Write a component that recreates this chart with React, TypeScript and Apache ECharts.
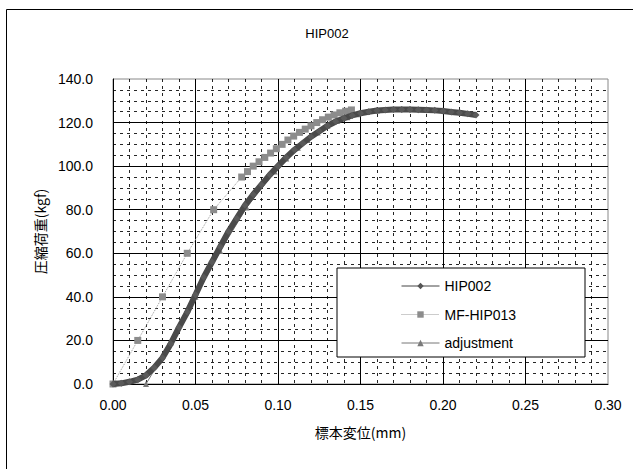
import React, { useEffect, useRef } from "react";
import * as echarts from "echarts";

const chartTitle = "HIP002";
const xAxisName = "標本変位(mm)";
const yAxisName = "圧縮荷重(kgf)";
const seriesNames = ["HIP002", "MF-HIP013", "adjustment"];

const hip002: [number, number][] = [
  [0.0, 0], [0.005, 0.3], [0.01, 1], [0.015, 2], [0.02, 4], [0.025, 7.5],
  [0.03, 12], [0.035, 18.5], [0.04, 26], [0.045, 33], [0.05, 41], [0.055, 49],
  [0.06, 56], [0.065, 63], [0.07, 70], [0.075, 76], [0.08, 82], [0.085, 87],
  [0.09, 91.5], [0.095, 96], [0.1, 100], [0.105, 104], [0.11, 107.5],
  [0.115, 110.5], [0.12, 113.5], [0.125, 116], [0.13, 118.5], [0.135, 120.5],
  [0.14, 122], [0.145, 123.3], [0.15, 124.3], [0.155, 125], [0.16, 125.5],
  [0.165, 125.8], [0.17, 126], [0.175, 126], [0.18, 126], [0.185, 125.9],
  [0.19, 125.8], [0.195, 125.6], [0.2, 125.3], [0.205, 124.9], [0.21, 124.5],
  [0.215, 124], [0.22, 123.5],
];

const mfHip013: [number, number][] = [
  [0.0, 0], [0.015, 20], [0.03, 40], [0.045, 60], [0.061, 80], [0.078, 95],
  [0.0815, 97.5], [0.085, 100], [0.0885, 102], [0.092, 104], [0.0955, 106],
  [0.099, 108], [0.1025, 110], [0.106, 112], [0.1095, 113.8], [0.113, 115.5],
  [0.1165, 117], [0.12, 118.5], [0.1235, 120], [0.127, 121.3], [0.1305, 122.5],
  [0.134, 123.5], [0.1375, 124.5], [0.141, 125.2], [0.1445, 125.8],
];

const adjustment: [number, number][] = [
  [0.02, 0], [0.035, 19], [0.05, 40], [0.065, 61], [0.081, 81], [0.098, 97.5],
  [0.105, 103.5], [0.112, 108.5], [0.118, 112], [0.124, 115.5], [0.13, 118.5],
  [0.136, 120.8], [0.142, 122.5], [0.148, 123.8], [0.154, 124.8], [0.16, 125.5],
];

const FONT = "'Liberation Sans', Arial, sans-serif";
const CJK = "'Noto Sans CJK JP', sans-serif";

export default function App() {
  const ref = useRef<HTMLDivElement>(null);
  useEffect(() => {
    if (!ref.current) return;
    const chart = echarts.init(ref.current, undefined, { renderer: "svg" });
    const minor = { show: true, lineStyle: { color: "#000", width: 1, type: [3, 4] as any, opacity: 0.85 } };
    chart.setOption({
      animation: false,
      backgroundColor: "#fff",
      title: {
        text: chartTitle,
        left: 322,
        textAlign: "center",
        top: 22,
        textStyle: { fontFamily: FONT, fontSize: 13, fontWeight: "normal", color: "#000" },
      },
      grid: { left: 113, right: 25, top: 79, bottom: 85, show: true, borderColor: "#888", borderWidth: 1 },
      xAxis: {
        type: "value",
        min: 0,
        max: 0.3,
        interval: 0.05,
        name: xAxisName,
        nameLocation: "middle",
        nameGap: 41,
        nameTextStyle: { fontFamily: CJK, fontSize: 14, color: "#000" },
        axisLine: { show: true, lineStyle: { color: "#000", width: 1 } },
        axisTick: { show: false },
        axisLabel: { formatter: (v: number) => v.toFixed(2), margin: 14, fontFamily: FONT, fontSize: 14, color: "#000" },
        splitLine: { show: true, showMaxLine: false, lineStyle: { color: "#000", width: 1 } },
        minorTick: { show: false, splitNumber: 5 },
        minorSplitLine: minor,
      },
      yAxis: {
        type: "value",
        min: 0,
        max: 140,
        interval: 20,
        name: yAxisName,
        nameLocation: "middle",
        nameRotate: 90,
        nameGap: 60,
        nameTextStyle: { fontFamily: CJK, fontSize: 14, color: "#000" },
        axisLine: { show: true, lineStyle: { color: "#000", width: 1 } },
        axisTick: { show: false },
        axisLabel: { formatter: (v: number) => v.toFixed(1), margin: 20, fontFamily: FONT, fontSize: 14, color: "#000" },
        splitLine: { show: true, showMaxLine: false, lineStyle: { color: "#000", width: 1 } },
        minorTick: { show: false, splitNumber: 4 },
        minorSplitLine: minor,
      },
      legend: {
        orient: "vertical",
        left: 396,
        top: 273,
        itemWidth: 38,
        itemHeight: 8,
        itemGap: 12.5,
        z: 60,
        textStyle: { fontFamily: FONT, fontSize: 14, color: "#000", lineHeight: 16 },
        data: [
          { name: seriesNames[0], lineStyle: { width: 1, color: "#444" }, itemStyle: { color: "#555" } },
          { name: seriesNames[1], lineStyle: { width: 1, color: "#999", type: "dotted" } },
          { name: seriesNames[2], lineStyle: { width: 1, color: "#777" } },
        ],
      },
      graphic: {
        elements: [
          {
            type: "rect",
            z: 50,
            shape: { x: 337, y: 268, width: 248, height: 89 },
            style: { fill: "#fff", stroke: "#000", lineWidth: 1 },
          },
          {
            type: "rect",
            z: 50,
            silent: true,
            shape: { x: 6.5, y: 9.5, width: 700, height: 520 },
            style: { fill: "none", stroke: "#000", lineWidth: 1 },
          },
        ],
      },
      series: [
        {
          name: seriesNames[1],
          type: "line",
          data: mfHip013,
          symbol: "rect",
          symbolSize: 7,
          showAllSymbol: true,
          lineStyle: { color: "#999", width: 1, type: "dotted" },
          itemStyle: { color: "#8c8c8c" },
          z: 3,
        },
        {
          name: seriesNames[2],
          type: "line",
          data: adjustment,
          symbol: "triangle",
          symbolSize: 6,
          showAllSymbol: true,
          lineStyle: { color: "#777", width: 1 },
          itemStyle: { color: "#7a7a7a" },
          z: 2,
        },
        {
          name: seriesNames[0],
          type: "line",
          data: hip002,
          symbol: "diamond",
          symbolSize: 7,
          showAllSymbol: true,
          lineStyle: { color: "#4a4a4a", width: 6 },
          itemStyle: { color: "#5a5a5a" },
          z: 4,
        },
      ],
    });
    return () => chart.dispose();
  }, []);
  return <div ref={ref} style={{ position: "absolute", left: 0, top: 0, width: 633, height: 469 }} />;
}
